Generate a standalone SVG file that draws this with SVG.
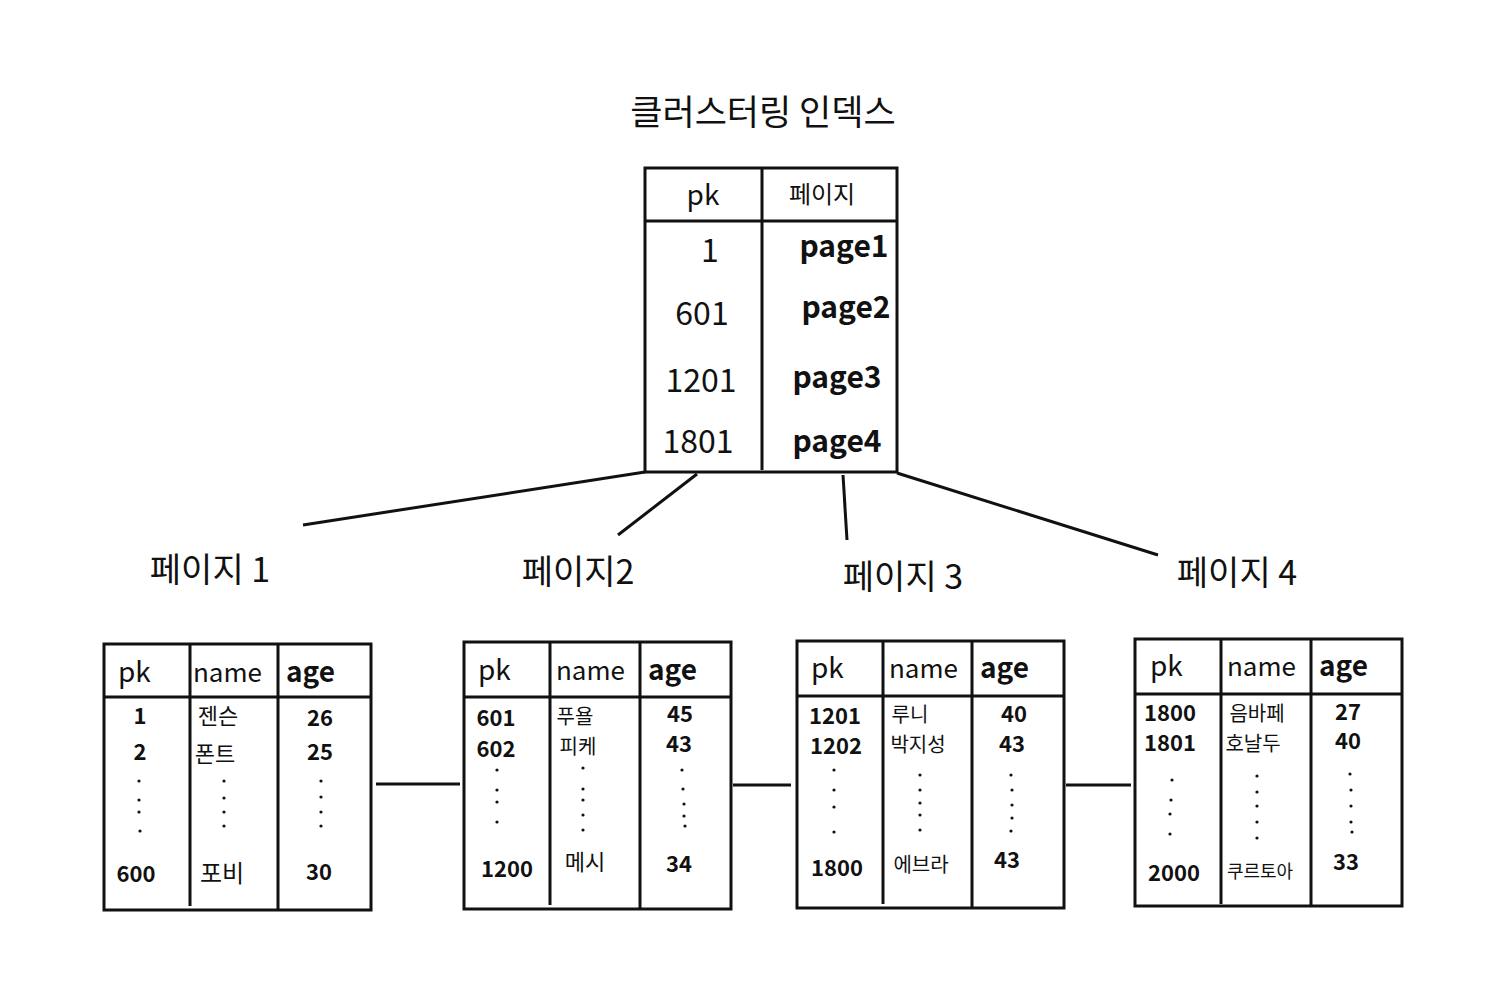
<svg xmlns="http://www.w3.org/2000/svg" width="1508" height="1000" viewBox="0 0 1508 1000">
<style>
.b{fill:none;stroke:#111;stroke-width:3}
.t{font-family:"Noto Sans CJK KR","Noto Sans",sans-serif;fill:#111}
.h{font-size:28px}
.c{font-size:22px;font-weight:bold}
.lbl{font-size:34px}
.m{text-anchor:middle}
.dot{fill:#111}
</style>
<rect width="1508" height="1000" fill="#fff"/>
<g id="title"><text class="t m" x="763" y="125" font-size="35">클러스터링  인덱스</text></g>
<g id="index">
<rect class="b" x="645" y="168" width="252" height="304"/>
<line class="b" x1="645" y1="221" x2="897" y2="221"/>
<line class="b" x1="762" y1="168" x2="762" y2="470"/>
<text class="t h m" x="703" y="205">pk</text>
<text class="t m" x="822" y="203" font-size="24">페이지</text>
<text class="t m" x="710" y="262" font-size="32">1</text>
<text class="t m" x="702" y="325" font-size="32">601</text>
<text class="t m" x="701" y="392" font-size="32">1201</text>
<text class="t m" x="698" y="453" font-size="32">1801</text>
<text class="t m" x="844" y="257" font-size="30" font-weight="bold">page1</text>
<text class="t m" x="846" y="318" font-size="30" font-weight="bold">page2</text>
<text class="t m" x="837" y="388" font-size="30" font-weight="bold">page3</text>
<text class="t m" x="837" y="452" font-size="30" font-weight="bold">page4</text>
</g>
<g id="connectors">
<line class="b" x1="645" y1="472" x2="303" y2="525"/>
<line class="b" x1="697" y1="474" x2="618" y2="535"/>
<line class="b" x1="843" y1="475" x2="847" y2="540"/>
<line class="b" x1="897" y1="473" x2="1158" y2="555"/>
<line class="b" x1="376" y1="784" x2="460" y2="784"/>
<line class="b" x1="733" y1="785" x2="791" y2="785"/>
<line class="b" x1="1066" y1="785" x2="1131" y2="785"/>
</g>
<g id="label1"><text class="t lbl m" x="210" y="582">페이지 1</text></g>
<g id="label2"><text class="t lbl m" x="578" y="584">페이지2</text></g>
<g id="label3"><text class="t lbl m" x="903" y="589">페이지 3</text></g>
<g id="label4"><text class="t lbl m" x="1237" y="585">페이지 4</text></g>

<g id="page1">
<rect class="b" x="104" y="644" width="267" height="266"/>
<line class="b" x1="104" y1="697" x2="371" y2="697"/>
<line class="b" x1="190" y1="644" x2="190" y2="906"/>
<line class="b" x1="278" y1="644" x2="278" y2="910"/>
<text class="t h" x="118" y="682">pk</text>
<text class="t" x="193" y="682" font-size="26">name</text>
<text class="t h" x="286" y="682" font-weight="bold">age</text>
<text class="t c m" x="140" y="724">1</text>
<text class="t c m" x="140" y="760">2</text>
<text class="t c m" x="136" y="882">600</text>
<text class="t m" x="218" y="724" font-size="22">젠슨</text>
<text class="t m" x="215" y="762" font-size="22">폰트</text>
<text class="t m" x="222" y="882" font-size="24">포비</text>
<text class="t c m" x="320" y="726">26</text>
<text class="t c m" x="320" y="760">25</text>
<text class="t c m" x="319" y="880">30</text>
<g class="dot"><circle cx="139" cy="781" r="1.6"/><circle cx="139" cy="800" r="1.6"/><circle cx="139" cy="812" r="1.6"/><circle cx="140" cy="831" r="1.6"/>
<circle cx="224" cy="781" r="1.6"/><circle cx="224" cy="798" r="1.6"/><circle cx="224" cy="812" r="1.6"/><circle cx="224" cy="826" r="1.6"/>
<circle cx="321" cy="781" r="1.6"/><circle cx="321" cy="797" r="1.6"/><circle cx="321" cy="812" r="1.6"/><circle cx="321" cy="826" r="1.6"/></g>
</g>

<g id="page2">
<rect class="b" x="464" y="642" width="267" height="267"/>
<line class="b" x1="464" y1="697" x2="731" y2="697"/>
<line class="b" x1="550" y1="642" x2="550" y2="905"/>
<line class="b" x1="640" y1="642" x2="640" y2="909"/>
<text class="t h" x="478" y="680">pk</text>
<text class="t" x="556" y="680" font-size="26">name</text>
<text class="t h" x="648" y="680" font-weight="bold">age</text>
<text class="t c m" x="496" y="726">601</text>
<text class="t c m" x="496" y="757">602</text>
<text class="t c m" x="507" y="877">1200</text>
<text class="t m" x="575" y="724" font-size="20">푸욜</text>
<text class="t m" x="578" y="754" font-size="20">피케</text>
<text class="t m" x="585" y="870" font-size="22">메시</text>
<text class="t c m" x="680" y="722">45</text>
<text class="t c m" x="679" y="752">43</text>
<text class="t c m" x="679" y="872">34</text>
<g class="dot"><circle cx="497" cy="770" r="1.6"/><circle cx="497" cy="790" r="1.6"/><circle cx="497" cy="802" r="1.6"/><circle cx="497" cy="822" r="1.6"/>
<circle cx="583" cy="768" r="1.6"/><circle cx="583" cy="789" r="1.6"/><circle cx="583" cy="800" r="1.6"/><circle cx="583" cy="815" r="1.6"/><circle cx="583" cy="830" r="1.6"/>
<circle cx="682" cy="770" r="1.6"/><circle cx="683" cy="789" r="1.6"/><circle cx="684" cy="804" r="1.6"/><circle cx="684" cy="816" r="1.6"/><circle cx="685" cy="826" r="1.6"/></g>
</g>

<g id="page3">
<rect class="b" x="797" y="641" width="267" height="267"/>
<line class="b" x1="797" y1="696" x2="1064" y2="696"/>
<line class="b" x1="883" y1="641" x2="883" y2="904"/>
<line class="b" x1="972" y1="641" x2="972" y2="908"/>
<text class="t h" x="811" y="678">pk</text>
<text class="t" x="889" y="678" font-size="26">name</text>
<text class="t h" x="980" y="678" font-weight="bold">age</text>
<text class="t c m" x="835" y="724">1201</text>
<text class="t c m" x="836" y="754">1202</text>
<text class="t c m" x="837" y="876">1800</text>
<text class="t m" x="910" y="722" font-size="20">루니</text>
<text class="t m" x="918" y="752" font-size="20">박지성</text>
<text class="t m" x="921" y="872" font-size="20">에브라</text>
<text class="t c m" x="1014" y="722">40</text>
<text class="t c m" x="1012" y="752">43</text>
<text class="t c m" x="1007" y="868">43</text>
<g class="dot"><circle cx="834" cy="770" r="1.6"/><circle cx="834" cy="790" r="1.6"/><circle cx="834" cy="807" r="1.6"/><circle cx="834" cy="832" r="1.6"/>
<circle cx="920" cy="775" r="1.6"/><circle cx="920" cy="790" r="1.6"/><circle cx="920" cy="803" r="1.6"/><circle cx="920" cy="815" r="1.6"/><circle cx="920" cy="830" r="1.6"/>
<circle cx="1011" cy="775" r="1.6"/><circle cx="1012" cy="790" r="1.6"/><circle cx="1012" cy="805" r="1.6"/><circle cx="1012" cy="818" r="1.6"/><circle cx="1011" cy="831" r="1.6"/></g>
</g>

<g id="page4">
<rect class="b" x="1135" y="639" width="267" height="267"/>
<line class="b" x1="1135" y1="694" x2="1402" y2="694"/>
<line class="b" x1="1221" y1="639" x2="1221" y2="904"/>
<line class="b" x1="1311" y1="639" x2="1311" y2="906"/>
<text class="t h" x="1150" y="676">pk</text>
<text class="t" x="1227" y="676" font-size="26">name</text>
<text class="t h" x="1319" y="676" font-weight="bold">age</text>
<text class="t c m" x="1170" y="721">1800</text>
<text class="t c m" x="1170" y="751">1801</text>
<text class="t c m" x="1174" y="881">2000</text>
<text class="t m" x="1257" y="721" font-size="20">음바페</text>
<text class="t m" x="1253" y="751" font-size="20">호날두</text>
<text class="t m" x="1260" y="878" font-size="18">쿠르토아</text>
<text class="t c m" x="1348" y="720">27</text>
<text class="t c m" x="1348" y="749">40</text>
<text class="t c m" x="1346" y="870">33</text>
<g class="dot"><circle cx="1172" cy="780" r="1.6"/><circle cx="1171" cy="800" r="1.6"/><circle cx="1170" cy="814" r="1.6"/><circle cx="1170" cy="834" r="1.6"/>
<circle cx="1257" cy="776" r="1.6"/><circle cx="1257" cy="792" r="1.6"/><circle cx="1257" cy="806" r="1.6"/><circle cx="1257" cy="822" r="1.6"/><circle cx="1257" cy="838" r="1.6"/>
<circle cx="1350" cy="774" r="1.6"/><circle cx="1351" cy="790" r="1.6"/><circle cx="1351" cy="806" r="1.6"/><circle cx="1351" cy="822" r="1.6"/><circle cx="1352" cy="832" r="1.6"/></g>
</g>
</svg>
